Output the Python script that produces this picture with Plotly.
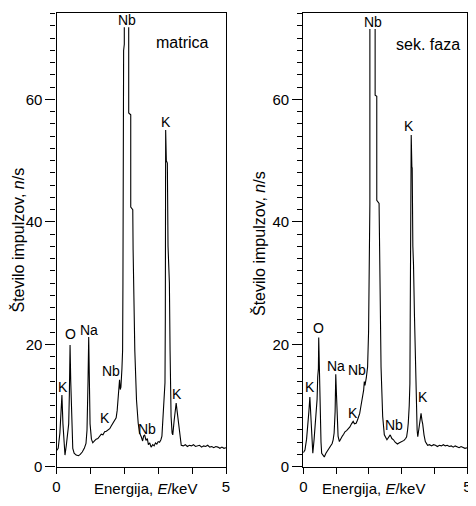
import plotly.graph_objects as go

# ---- data: matrica ----
E_mat = [0.00, 0.05, 0.10, 0.14, 0.16, 0.19, 0.22, 0.25, 0.29, 0.33, 0.36, 0.38, 0.40, 0.42, 0.45,
         0.48, 0.52, 0.58, 0.65, 0.70, 0.76, 0.82, 0.87, 0.90, 0.93, 0.95, 0.97, 0.99, 1.03, 1.07,
         1.12, 1.17, 1.22, 1.27, 1.32, 1.37, 1.42, 1.47, 1.52, 1.57, 1.61, 1.66, 1.71, 1.76, 1.79,
         1.81, 1.83, 1.86, 1.88, 1.90, 1.93, 1.95, 1.96, 1.96, 1.98, 1.98, 2.00, 2.00, 2.07,
         2.13, 2.13, 2.19, 2.19, 2.25, 2.26, 2.31, 2.36, 2.41, 2.45, 2.50, 2.54, 2.57, 2.60, 2.64,
         2.68, 2.71, 2.75, 2.79, 2.84, 2.88, 2.92, 2.96, 3.00, 3.04, 3.08, 3.11, 3.14, 3.17, 3.20,
         3.21, 3.21, 3.22, 3.24, 3.27, 3.29, 3.33, 3.35, 3.38, 3.41, 3.43, 3.47, 3.51, 3.53, 3.56,
         3.60, 3.64, 3.68, 3.74, 3.80, 3.86, 3.92, 3.98, 4.04, 4.10, 4.16, 4.22, 4.28, 4.34, 4.40,
         4.46, 4.52, 4.58, 4.64, 4.70, 4.76, 4.82, 4.88, 4.94, 5.00]
N_mat = [2.6, 3.0, 5.5, 10.5, 11.7, 7.0, 3.0, 1.9, 3.5, 6.0, 7.0, 12.0, 19.9, 14.0, 6.0,
         3.0, 2.2, 1.9, 1.8, 2.0, 2.4, 3.0, 3.8, 6.0, 14.0, 21.2, 14.0, 7.0, 4.5, 3.9,
         4.2, 4.5, 4.6, 5.0, 5.3, 5.2, 5.7, 5.8, 6.0, 6.2, 6.6, 7.0, 7.5, 8.0, 9.2,
         10.4, 12.3, 14.2, 12.6, 13.0, 16.0, 19.0, 30.0, 39.0, 40.0, 68.0, 69.0, 71.8, None,
         71.8, 57.8, 57.5, 42.4, 42.0, 35.4, 19.0, 10.9, 7.1, 5.5, 4.9, 4.2, 5.0, 5.2, 4.3,
         4.6, 3.6, 3.9, 3.2, 3.6, 3.4, 3.9, 3.7, 4.1, 4.0, 4.4, 5.0, 8.2, 11.0, 13.7,
         24.0, 44.0, 55.0, 50.0, 49.6, 36.0, 30.0, 19.0, 8.2, 5.5, 5.2, 7.5, 9.5, 10.4, 9.0,
         7.1, 4.8, 3.5, 3.4, 3.6, 3.3, 3.5, 3.4, 3.6, 3.3, 3.4, 3.5, 3.2, 3.4, 3.3,
         3.5, 3.2, 3.3, 3.1, 3.3, 3.2, 3.0, 3.2, 3.0, 3.1]

# ---- data: sek. faza ----
E_sek = [0.00, 0.05, 0.10, 0.14, 0.17, 0.20, 0.23, 0.26, 0.29, 0.33, 0.37, 0.40, 0.42, 0.44, 0.46,
         0.47, 0.49, 0.51, 0.54, 0.56, 0.60, 0.64, 0.69, 0.74, 0.79, 0.84, 0.88, 0.91, 0.94, 0.97,
         0.99, 1.01, 1.03, 1.06, 1.10, 1.14, 1.19, 1.23, 1.27, 1.32, 1.37, 1.42, 1.47, 1.52, 1.56,
         1.61, 1.65, 1.69, 1.72, 1.76, 1.81, 1.84, 1.86, 1.88, 1.92, 1.96, 1.99, 2.01, 2.02, 2.03,
         2.03, 2.11, 2.19, 2.19, 2.24, 2.24, 2.31, 2.33, 2.37, 2.42, 2.47, 2.55, 2.60, 2.65, 2.70,
         2.75, 2.80, 2.87, 2.93, 3.00, 3.07, 3.12, 3.15, 3.18, 3.20, 3.23, 3.25, 3.26, 3.27, 3.28,
         3.29, 3.31, 3.32, 3.34, 3.36, 3.39, 3.42, 3.44, 3.47, 3.49, 3.52, 3.56, 3.59, 3.62, 3.64,
         3.68, 3.72, 3.79, 3.85, 3.91, 3.97, 4.03, 4.09, 4.15, 4.21, 4.27, 4.33, 4.39, 4.45, 4.51,
         4.57, 4.63, 4.69, 4.75, 4.81, 4.87, 4.93, 5.00]
N_sek = [2.3, 2.7, 4.5, 6.5, 9.0, 11.4, 8.5, 4.0, 2.2, 4.5, 7.5, 8.5, 11.0, 14.7, 16.0,
         21.1, 14.0, 8.2, 4.0, 2.2, 1.8, 1.6, 2.2, 2.6, 3.0, 3.3, 3.8, 4.4, 5.5, 9.0,
         15.1, 12.0, 7.5, 5.0, 4.1, 4.6, 5.0, 5.3, 5.7, 5.9, 6.2, 6.5, 7.0, 7.4, 7.0,
         7.1, 7.6, 8.3, 8.7, 10.0, 11.4, 12.5, 13.9, 13.3, 14.5, 16.3, 22.0, 35.0, 42.0, 43.0,
         71.5, None, 71.5, 60.7, 60.5, 43.5, 43.0, 35.4, 16.3, 8.2, 5.2, 4.4, 4.8, 5.2, 4.6,
         4.4, 4.0, 3.7, 3.9, 4.1, 4.3, 4.6, 4.9, 6.0, 7.1, 10.0, 13.6, 24.5, 40.6, 48.0,
         54.2, 49.0, 48.8, 36.0, 33.0, 24.5, 15.0, 10.9, 6.0, 4.9, 6.0, 8.0, 8.7, 7.5, 7.0,
         5.2, 4.1, 3.5, 3.6, 3.4, 3.6, 3.5, 3.3, 3.5, 3.4, 3.6, 3.4, 3.5, 3.3, 3.4,
         3.2, 3.4, 3.3, 3.1, 3.3, 3.2, 3.0, 3.1]

# peak labels: (text, energy, counts)
lab_mat = [("Nb", 2.07, 72.9), ("K", 3.22, 56.3), ("K", 0.19, 13.0), ("O", 0.40, 21.6),
           ("Na", 0.95, 22.4), ("Nb", 1.62, 15.7), ("K", 1.42, 7.9), ("Nb", 2.68, 6.2),
           ("K", 3.56, 11.8)]
lab_sek = [("Nb", 2.11, 72.6), ("K", 3.22, 55.6), ("K", 0.20, 13.1), ("O", 0.47, 22.7),
           ("Na", 1.00, 16.5), ("Nb", 1.64, 15.8), ("K", 1.52, 8.7), ("Nb", 2.76, 6.8),
           ("K", 3.65, 11.4)]

x_ticks = [0, 1, 2, 3, 4, 5]
x_ticktext = ["0", "", "", "", "", "5"]
y_ticks = [0, 20, 40, 60]

FONT = "Liberation Sans"
OFF = 8                      # default page body margin around the figure
W, H = 476 - 2 * OFF, 506 - 2 * OFF


def px(v):
    return (v - OFF) / W


def py(v):
    return (H - (v - OFF)) / H


fig = go.Figure()
fig.add_trace(go.Scatter(x=E_mat, y=N_mat, mode="lines", line=dict(color="black", width=1.1),
                         xaxis="x", yaxis="y", showlegend=False, connectgaps=False))
fig.add_trace(go.Scatter(x=E_sek, y=N_sek, mode="lines", line=dict(color="black", width=1.1),
                         xaxis="x2", yaxis="y2", showlegend=False, connectgaps=False))

ydom = [py(466.7), py(12.5)]
common_x = dict(range=[0, 5], showline=True, linecolor="black", linewidth=1.3, mirror=True,
                ticks="outside", ticklen=6, tickwidth=1.3, tickcolor="black",
                tickvals=x_ticks, ticktext=x_ticktext, showgrid=False, zeroline=False,
                automargin=False, ticklabeloverflow="allow",
                tickfont=dict(family=FONT, size=15, color="black"))
common_y = dict(range=[0, 74.2], domain=ydom, showline=True, linecolor="black", linewidth=1.3,
                mirror=True, ticks="outside", ticklen=10, tickwidth=1.3, tickcolor="black",
                tickvals=y_ticks, showgrid=False, zeroline=False, automargin=False,
                tickfont=dict(family=FONT, size=15, color="black"),
                minor=dict(dtick=2, ticks="outside", ticklen=5, tickwidth=1.1,
                           tickcolor="black", showgrid=False))

fig.update_layout(
    width=W, height=H, margin=dict(l=0, r=0, t=0, b=0, autoexpand=False),
    paper_bgcolor="white", plot_bgcolor="white",
    xaxis=dict(domain=[px(56.5), px(226)], anchor="y", **common_x),
    yaxis=dict(anchor="x", **common_y),
    xaxis2=dict(domain=[px(303.3), min(1.0, px(467.3))], anchor="y2", **common_x),
    yaxis2=dict(anchor="x2", **common_y),
)

ann = []
for t, x, y in lab_mat:
    ann.append(dict(text=t, x=x, y=y, xref="x", yref="y", showarrow=False,
                    xanchor="center", yanchor="middle",
                    font=dict(family=FONT, size=14, color="black")))
for t, x, y in lab_sek:
    ann.append(dict(text=t, x=x, y=y, xref="x2", yref="y2", showarrow=False,
                    xanchor="center", yanchor="middle",
                    font=dict(family=FONT, size=14, color="black")))
ann.append(dict(text="matrica", x=3.71, y=69.3, xref="x", yref="y", showarrow=False,
                xanchor="center", yanchor="middle",
                font=dict(family=FONT, size=16, color="black")))
ann.append(dict(text="sek. faza", x=3.81, y=68.9, xref="x2", yref="y2", showarrow=False,
                xanchor="center", yanchor="middle",
                font=dict(family=FONT, size=16, color="black")))
ytitle = "Število impulzov, <i>n</i>/s"
xtitle = "Energija, <i>E</i>/keV"
ann.append(dict(text=ytitle, x=px(17.5), y=py(240), xref="paper", yref="paper",
                xanchor="center", yanchor="middle",
                textangle=-90, showarrow=False, font=dict(family=FONT, size=16, color="black")))
ann.append(dict(text=ytitle, x=px(259), y=py(243), xref="paper", yref="paper",
                xanchor="center", yanchor="middle",
                textangle=-90, showarrow=False, font=dict(family=FONT, size=16, color="black")))
ann.append(dict(text=xtitle, x=px(145), y=py(488), xref="paper", yref="paper",
                xanchor="center", yanchor="middle",
                showarrow=False, font=dict(family=FONT, size=15, color="black")))
ann.append(dict(text=xtitle, x=px(373), y=py(488), xref="paper", yref="paper",
                xanchor="center", yanchor="middle",
                showarrow=False, font=dict(family=FONT, size=15, color="black")))
fig.update_layout(annotations=ann)

fig.write_html("out.html")
